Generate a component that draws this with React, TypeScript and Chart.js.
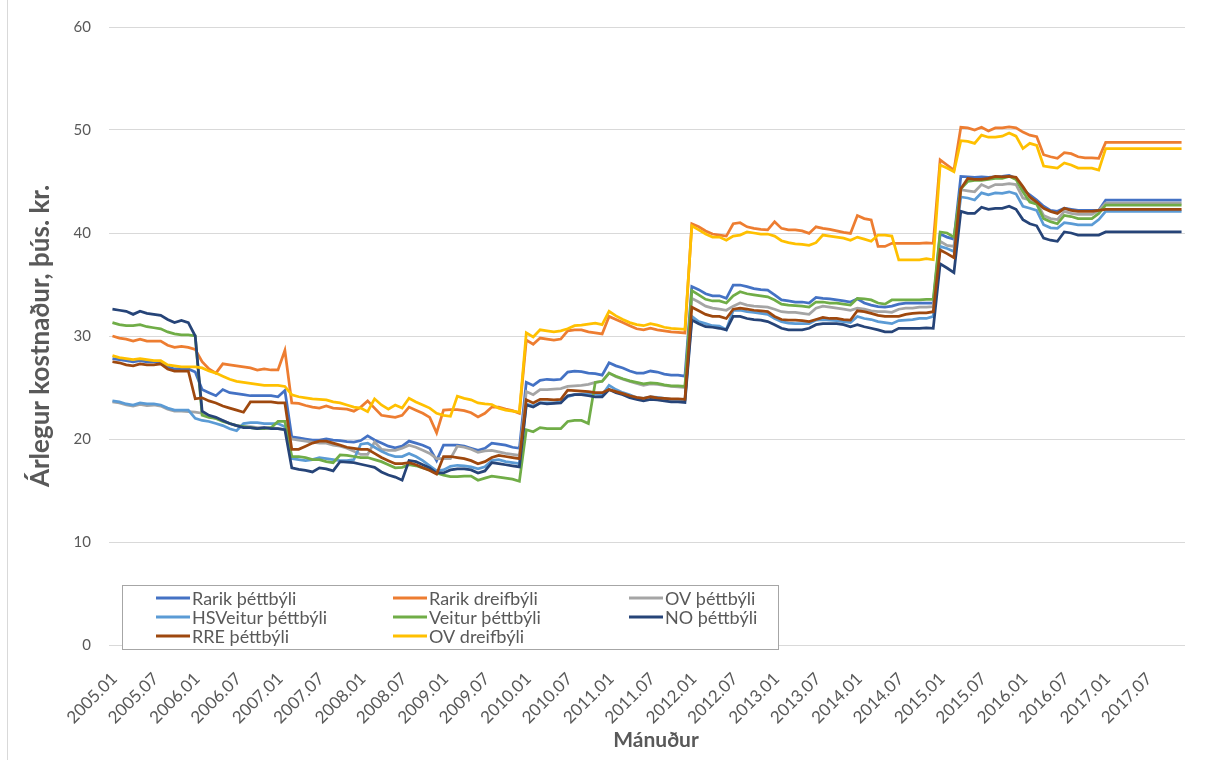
import React, { useEffect, useRef } from 'react';
import { Chart, registerables } from 'chart.js';

Chart.register(...registerables);

// ---------- categories ----------
const years = [2005, 2006, 2007, 2008, 2009, 2010, 2011, 2012, 2013, 2014, 2015, 2016, 2017];
const monthCodes = ['01', '02', '03', '04', '05', '06', '07', '08', '09', '10', '11', '12'];
const categories: string[] = years.flatMap((y) => monthCodes.map((m) => `${y}.${m}`));
const labelEvery = 6;

// ---------- series (þús. kr. á ári) ----------
const rarikThett = [
  27.8, 27.7, 27.6, 27.5, 27.6, 27.5, 27.5, 27.4, 27.0, 26.8, 26.8, 26.8,
  26.5, 24.8, 24.5, 24.2, 24.8, 24.5, 24.4, 24.3, 24.2, 24.2, 24.2, 24.2,
  24.1, 24.7, 20.2, 20.1, 20.0, 19.9, 19.9, 20.0, 19.9, 19.85, 19.75, 19.7,
  19.85, 20.3, 19.9, 19.6, 19.3, 19.15, 19.3, 19.8, 19.6, 19.4, 19.1, 17.9,
  19.4, 19.4, 19.4, 19.3, 19.1, 18.9, 19.1, 19.6, 19.5, 19.4, 19.2, 19.1,
  25.5, 25.2, 25.7, 25.8, 25.75, 25.8, 26.5, 26.6, 26.55, 26.4, 26.35, 26.2,
  27.4, 27.1, 26.9, 26.6, 26.4, 26.4, 26.6, 26.5, 26.3, 26.2, 26.2, 26.1,
  34.8, 34.5, 34.1, 33.9, 33.9, 33.66, 34.95, 34.95, 34.8, 34.6, 34.5, 34.45,
  34.0, 33.5, 33.4, 33.3, 33.3, 33.2, 33.75, 33.66, 33.6, 33.5, 33.4, 33.3,
  33.6, 33.2, 33.0, 32.85, 32.8, 32.9, 33.1, 33.2, 33.2, 33.2, 33.2, 33.2,
  39.9, 39.6, 39.4, 45.5, 45.45, 45.4, 45.45, 45.4, 45.45, 45.5, 45.6, 45.3,
  44.2, 43.7, 43.2, 42.6, 42.2, 42.1, 42.4, 42.3, 42.2, 42.2, 42.2, 42.2,
  43.2, 43.2, 43.2, 43.2, 43.2, 43.2, 43.2, 43.2, 43.2, 43.2, 43.2, 43.2,
];

const rarikDreif = [
  30.0, 29.8, 29.7, 29.5, 29.7, 29.5, 29.5, 29.5, 29.1, 28.9, 29.0, 28.9,
  28.7, 27.5, 26.8, 26.4, 27.3, 27.2, 27.1, 27.0, 26.9, 26.7, 26.8, 26.7,
  26.7, 28.6, 23.5, 23.45, 23.25, 23.1, 23.0, 23.2, 23.0, 22.95, 22.9, 22.7,
  23.1, 23.7, 23.0, 22.3, 22.2, 22.1, 22.3, 23.1, 22.8, 22.5, 22.1, 20.6,
  22.8, 22.85, 22.85, 22.75, 22.55, 22.15, 22.5, 23.1, 23.1, 22.9, 22.75, 22.5,
  29.6, 29.2, 29.8, 29.7, 29.6, 29.7, 30.5, 30.6, 30.6, 30.4, 30.3, 30.2,
  31.9, 31.6, 31.3, 31.0, 30.7, 30.6, 30.75, 30.6, 30.5, 30.4, 30.35, 30.3,
  40.9, 40.6, 40.2, 39.9, 39.8, 39.7, 40.9, 41.0, 40.6, 40.45, 40.35, 40.3,
  41.1, 40.45, 40.3, 40.3, 40.2, 39.96, 40.6, 40.45, 40.35, 40.2, 40.06, 39.96,
  41.7, 41.4, 41.26, 38.7, 38.7, 39.0, 39.0, 39.0, 39.0, 39.0, 39.05, 39.0,
  47.1, 46.6, 46.1, 50.26, 50.2, 50.0, 50.26, 49.9, 50.2, 50.2, 50.3, 50.2,
  49.8, 49.5, 49.35, 47.6, 47.4, 47.25, 47.8, 47.7, 47.4, 47.3, 47.3, 47.25,
  48.8, 48.8, 48.8, 48.8, 48.8, 48.8, 48.8, 48.8, 48.8, 48.8, 48.8, 48.8,
];

const ovThett = [
  23.6, 23.5, 23.3, 23.2, 23.35, 23.25, 23.3, 23.2, 22.9, 22.7, 22.7, 22.65,
  22.6, 22.5, 22.2, 22.0, 21.8, 21.5, 21.3, 21.2, 21.2, 21.1, 21.1, 21.1,
  21.0, 20.9, 20.0, 19.9, 19.8, 19.7, 19.6, 19.6, 19.4, 19.3, 19.1, 18.8,
  18.5, 18.5, 19.7, 19.0, 18.9, 18.9, 19.1, 19.4, 19.2, 18.9, 18.6, 18.1,
  18.1, 18.1, 19.3, 19.2, 19.0, 18.7, 18.85, 18.9, 18.75, 18.6, 18.5, 18.4,
  24.6, 24.3, 24.8, 24.8, 24.85, 24.9, 25.1, 25.15, 25.2, 25.3, 25.5, 25.6,
  26.4, 26.05, 25.8, 25.6, 25.4, 25.2, 25.35, 25.3, 25.2, 25.1, 25.05, 25.0,
  33.65, 33.3, 32.9, 32.7, 32.6, 32.5, 32.9, 33.2, 33.0, 32.9, 32.85, 32.8,
  32.6, 32.36, 32.3, 32.3, 32.2, 32.1, 32.7, 32.9, 32.8, 32.7, 32.6, 32.5,
  32.7, 32.6, 32.45, 32.36, 32.36, 32.3, 32.6, 32.7, 32.7, 32.8, 32.8, 32.85,
  39.2, 38.8, 38.7, 44.2, 44.1, 44.0, 44.7, 44.4, 44.7, 44.7, 44.8, 44.7,
  43.4, 43.2, 43.0, 41.7, 41.4, 41.3, 42.1, 41.9, 41.8, 41.8, 41.8, 42.2,
  42.9, 42.9, 42.9, 42.9, 42.9, 42.9, 42.9, 42.9, 42.9, 42.9, 42.9, 42.9,
];

const hsVeitur = [
  23.7, 23.6, 23.4, 23.3, 23.5, 23.4, 23.4, 23.3, 23.0, 22.8, 22.8, 22.8,
  22.0, 21.8, 21.7, 21.5, 21.3, 21.0, 20.8, 21.5, 21.6, 21.6, 21.5, 21.5,
  21.5, 21.2, 18.1, 18.0, 17.9, 18.0, 18.2, 18.1, 18.0, 17.9, 17.9, 18.0,
  19.5, 19.6, 19.2, 18.8, 18.5, 18.3, 18.3, 18.6, 18.3, 17.9, 17.4, 16.9,
  17.0, 17.35, 17.45, 17.4, 17.3, 17.1, 17.3, 17.9, 18.0, 17.8, 17.7, 17.6,
  23.4, 23.2, 23.5, 23.5, 23.5, 23.6, 24.1, 24.3, 24.35, 24.4, 24.35, 24.3,
  25.2, 24.8, 24.5, 24.3, 24.0, 23.95, 24.1, 24.05, 23.95, 23.85, 23.85, 23.8,
  31.9, 31.4, 31.2, 31.0, 30.95, 30.6, 32.5, 32.5, 32.36, 32.3, 32.2, 32.1,
  31.7, 31.4, 31.25, 31.2, 31.2, 31.2, 31.55, 31.6, 31.55, 31.5, 31.4, 31.3,
  31.9, 31.7, 31.6, 31.4, 31.3, 31.2, 31.5, 31.55, 31.6, 31.7, 31.7, 31.9,
  38.7, 38.5, 38.2, 43.5, 43.4, 43.2, 43.9, 43.7, 43.9, 43.85, 44.0, 43.8,
  42.6, 42.4, 42.2, 40.8, 40.5, 40.45, 41.0, 40.9, 40.8, 40.8, 40.8, 41.3,
  42.1, 42.1, 42.1, 42.1, 42.1, 42.1, 42.1, 42.1, 42.1, 42.1, 42.1, 42.1,
];

const veitur = [
  31.3, 31.1, 31.0, 31.0, 31.1, 30.9, 30.8, 30.7, 30.4, 30.2, 30.1, 30.1,
  30.0, 22.3, 22.1, 22.0, 21.7, 21.5, 21.3, 21.2, 21.1, 21.0, 21.0, 21.1,
  21.7, 21.7, 18.3, 18.3, 18.2, 18.0, 18.0, 17.8, 17.7, 18.45, 18.4, 18.3,
  18.2, 18.2, 18.0, 17.8, 17.5, 17.2, 17.25, 17.5, 17.4, 17.2, 17.0, 16.7,
  16.5, 16.35, 16.35, 16.4, 16.4, 16.0, 16.2, 16.4, 16.3, 16.2, 16.1, 15.9,
  20.9, 20.7, 21.1, 21.0, 21.0, 21.0, 21.7, 21.8, 21.8, 21.5, 25.5, 25.6,
  26.4, 26.1, 25.85, 25.65, 25.5, 25.35, 25.45, 25.4, 25.25, 25.15, 25.15, 25.1,
  34.4, 34.0, 33.56, 33.4, 33.4, 33.2, 33.9, 34.3, 34.1, 34.0, 33.9, 33.8,
  33.5, 33.1, 33.0, 32.95, 32.9, 32.8, 33.3, 33.3, 33.2, 33.2, 33.1, 33.0,
  33.65, 33.6, 33.5, 33.2, 33.1, 33.5, 33.5, 33.5, 33.5, 33.5, 33.56, 33.56,
  40.1, 40.0, 39.6, 44.3, 45.0, 45.1, 45.1, 45.2, 45.3, 45.3, 45.5, 45.2,
  44.0, 43.0, 42.8, 41.4, 41.1, 40.9, 41.7, 41.6, 41.4, 41.4, 41.4, 41.9,
  42.7, 42.7, 42.7, 42.7, 42.7, 42.7, 42.7, 42.7, 42.7, 42.7, 42.7, 42.7,
];

const noThett = [
  32.6, 32.5, 32.4, 32.1, 32.4, 32.2, 32.1, 32.0, 31.6, 31.3, 31.5, 31.3,
  30.0, 22.7, 22.3, 22.1, 21.8, 21.5, 21.3, 21.1, 21.1, 21.0, 21.1, 21.0,
  21.0, 20.9, 17.2, 17.05, 16.95, 16.8, 17.2, 17.1, 16.9, 17.8, 17.75, 17.7,
  17.55, 17.4, 17.25, 16.8, 16.5, 16.3, 16.0, 17.9, 17.8, 17.5, 17.2, 16.7,
  16.7, 17.0, 17.1, 17.1, 17.0, 16.7, 16.9, 17.7, 17.6, 17.5, 17.4, 17.3,
  23.3, 23.1, 23.5, 23.4, 23.45, 23.5, 24.2, 24.3, 24.3, 24.2, 24.1, 24.1,
  24.8, 24.5, 24.3, 24.0, 23.85, 23.7, 23.85, 23.8, 23.7, 23.6, 23.6, 23.55,
  31.55, 31.2, 30.9, 30.85, 30.75, 30.6, 31.9, 31.9, 31.7, 31.6, 31.55, 31.4,
  31.1, 30.75, 30.6, 30.6, 30.6, 30.75, 31.1, 31.2, 31.2, 31.2, 31.1, 30.9,
  31.1, 30.9, 30.75, 30.6, 30.4, 30.4, 30.75, 30.75, 30.75, 30.75, 30.8, 30.75,
  37.0, 36.6, 36.15, 42.1, 41.9, 41.9, 42.5, 42.3, 42.4, 42.4, 42.6, 42.3,
  41.3, 40.9, 40.7, 39.5, 39.3, 39.2, 40.1, 40.0, 39.8, 39.8, 39.8, 39.8,
  40.1, 40.1, 40.1, 40.1, 40.1, 40.1, 40.1, 40.1, 40.1, 40.1, 40.1, 40.1,
];

const rreThett = [
  27.5, 27.4, 27.2, 27.1, 27.3, 27.2, 27.2, 27.3, 26.8, 26.6, 26.6, 26.6,
  23.9, 24.0, 23.7, 23.5, 23.2, 23.0, 22.8, 22.6, 23.6, 23.6, 23.6, 23.6,
  23.5, 23.5, 19.0, 19.0, 19.3, 19.6, 19.8, 19.8, 19.6, 19.4, 19.2, 19.1,
  19.0, 19.0, 18.6, 18.2, 17.9, 17.6, 17.6, 17.7, 17.5, 17.2, 16.95, 16.6,
  18.3, 18.3, 18.2, 18.1, 17.9, 17.6, 17.8, 18.2, 18.4, 18.3, 18.2, 18.1,
  23.8, 23.5, 23.85, 23.85, 23.8, 23.85, 24.75, 24.7, 24.65, 24.6, 24.5, 24.5,
  24.8, 24.6, 24.4, 24.2, 24.05, 23.95, 24.1, 24.0, 23.95, 23.9, 23.9, 23.85,
  32.8, 32.45, 32.1, 31.9, 31.9, 31.7, 32.6, 32.7, 32.6, 32.5, 32.45, 32.36,
  31.9, 31.6, 31.55, 31.55, 31.5, 31.4, 31.6, 31.8, 31.7, 31.7, 31.6, 31.55,
  32.45, 32.36, 32.2, 32.0, 31.9, 31.9, 31.9, 32.1, 32.2, 32.25, 32.25, 32.36,
  38.35, 38.0, 37.6, 44.3, 45.3, 45.2, 45.2, 45.3, 45.5, 45.45, 45.5, 45.4,
  44.5, 43.5, 43.0, 42.4, 42.1, 41.9, 42.4, 42.2, 42.1, 42.1, 42.1, 42.2,
  42.3, 42.3, 42.3, 42.3, 42.3, 42.3, 42.3, 42.3, 42.3, 42.3, 42.3, 42.3,
];

const ovDreif = [
  28.1, 27.9, 27.8, 27.7, 27.8, 27.7, 27.6, 27.6, 27.2, 27.1, 27.0, 27.0,
  27.0, 26.9, 26.6, 26.4, 26.1, 25.8, 25.6, 25.5, 25.4, 25.3, 25.2, 25.2,
  25.2, 25.1, 24.3, 24.1, 24.0, 23.9, 23.85, 23.8, 23.6, 23.5, 23.3, 23.1,
  23.0, 22.65, 23.9, 23.3, 22.9, 23.3, 23.0, 23.95, 23.6, 23.3, 23.0, 22.5,
  22.3, 22.2, 24.15, 23.95, 23.8, 23.5, 23.4, 23.35, 23.0, 22.8, 22.7, 22.6,
  30.3, 29.9, 30.6, 30.5, 30.4, 30.5, 30.7, 31.0, 31.05, 31.15, 31.25, 31.1,
  32.4, 31.95, 31.6, 31.3, 31.1, 31.0, 31.2, 31.05, 30.85, 30.75, 30.7, 30.65,
  40.7, 40.3, 39.9, 39.6, 39.6, 39.3, 39.7, 39.8, 40.1, 40.0, 39.9, 39.9,
  39.7, 39.25, 39.06, 38.95, 38.9, 38.8, 39.06, 39.8, 39.7, 39.6, 39.5, 39.3,
  39.6, 39.4, 39.2, 39.8, 39.8, 39.7, 37.4, 37.4, 37.4, 37.4, 37.5, 37.4,
  46.6, 46.3, 45.95, 48.96, 48.9, 48.7, 49.5, 49.3, 49.3, 49.4, 49.7, 49.4,
  48.2, 48.7, 48.5, 46.5, 46.4, 46.3, 46.8, 46.6, 46.3, 46.3, 46.3, 46.1,
  48.2, 48.2, 48.2, 48.2, 48.2, 48.2, 48.2, 48.2, 48.2, 48.2, 48.2, 48.2,
];

const seriesNames = [
  'Rarik þéttbýli',
  'Rarik dreifbýli',
  'OV þéttbýli',
  'HSVeitur þéttbýli',
  'Veitur þéttbýli',
  'NO þéttbýli',
  'RRE þéttbýli',
  'OV dreifbýli',
];
const seriesValues = [rarikThett, rarikDreif, ovThett, hsVeitur, veitur, noThett, rreThett, ovDreif];
const seriesColors = ['#4472C4', '#ED7D31', '#A5A5A5', '#5B9BD5', '#70AD47', '#264478', '#9E480E', '#FFC000'];

const yTicks = [0, 10, 20, 30, 40, 50, 60];
const yTitle = 'Árlegur kostnaður, þús. kr.';
const xTitle = 'Mánuður';

const FONT = 'Lato, "Noto Sans", sans-serif';
const TEXT = '#595959';

// Legend box inside the plot, rotated month labels and the x-axis title
const extras = {
  id: 'extras',
  afterDraw(chart: any) {
    const ctx = chart.ctx as CanvasRenderingContext2D;
    const area = chart.chartArea;
    const xScale = chart.scales.x;
    ctx.save();

    // rotated category labels, every sixth month
    ctx.font = `17px ${FONT}`;
    ctx.fillStyle = TEXT;
    ctx.textAlign = 'right';
    ctx.textBaseline = 'middle';
    categories.forEach((label, i) => {
      if (i % labelEvery !== 0) return;
      const px = xScale.getPixelForValue(i);
      ctx.save();
      ctx.translate(px + 2, area.bottom + 31);
      ctx.rotate(-Math.PI / 4);
      ctx.fillText(label, 0, 0);
      ctx.restore();
    });

    // legend
    const left = 122;
    const top = 585;
    const width = 656;
    const height = 64;
    const colX = [156, 393, 629];
    const rowY = [598, 617, 636];
    ctx.fillStyle = '#ffffff';
    ctx.fillRect(left, top, width, height);
    ctx.strokeStyle = '#a6a6a6';
    ctx.lineWidth = 1;
    ctx.strokeRect(left + 0.5, top + 0.5, width, height);
    ctx.font = `18px ${FONT}`;
    ctx.textBaseline = 'middle';
    ctx.textAlign = 'left';
    chart.data.datasets.forEach((ds: any, i: number) => {
      const x = colX[i % 3];
      const y = rowY[Math.floor(i / 3)];
      ctx.strokeStyle = ds.borderColor;
      ctx.lineWidth = 3;
      ctx.beginPath();
      ctx.moveTo(x, y);
      ctx.lineTo(x + 34, y);
      ctx.stroke();
      ctx.fillStyle = TEXT;
      ctx.fillText(ds.label, x + 36, y + 1);
    });

    // x-axis title
    ctx.font = `bold 21px ${FONT}`;
    ctx.textAlign = 'center';
    ctx.fillStyle = TEXT;
    ctx.fillText(xTitle, 656, 740);
    ctx.restore();
  },
};

export default function App() {
  const canvasRef = useRef<HTMLCanvasElement | null>(null);

  useEffect(() => {
    const canvas = canvasRef.current;
    if (!canvas) return;
    Chart.defaults.font.family = FONT;
    const chart = new Chart(canvas, {
      type: 'line',
      data: {
        labels: categories,
        datasets: seriesNames.map((name, i) => ({
          label: name,
          data: seriesValues[i],
          borderColor: seriesColors[i],
          backgroundColor: seriesColors[i],
          borderWidth: 2.75,
          pointRadius: 0,
          pointHoverRadius: 0,
          tension: 0,
          fill: false,
          order: seriesNames.length - i,
        })),
      },
      options: {
        responsive: false,
        maintainAspectRatio: false,
        animation: false,
        layout: { padding: { left: 0, right: 27, top: 27, bottom: 0 } },
        plugins: {
          legend: { display: false },
          tooltip: { enabled: false },
          title: { display: false },
        },
        scales: {
          x: {
            type: 'category',
            offset: true,
            grid: { display: false, drawTicks: false },
            border: { display: false },
            ticks: { display: false },
            title: { display: false },
            afterFit: (scale: any) => {
              scale.height = 115;
            },
          },
          y: {
            min: 0,
            max: 60,
            afterBuildTicks: (scale: any) => {
              scale.ticks = yTicks.map((v) => ({ value: v }));
            },
            grid: { color: '#d9d9d9', lineWidth: 1, drawTicks: false },
            border: { display: false },
            ticks: {
              padding: 18,
              color: TEXT,
              font: { size: 15, family: FONT },
            },
            title: {
              display: true,
              text: yTitle,
              color: TEXT,
              font: { size: 26, weight: 'bold', family: FONT },
              padding: { top: 25, bottom: 0 },
            },
            afterFit: (scale: any) => {
              scale.width = 109;
            },
          },
        },
      },
      plugins: [extras],
    });
    return () => chart.destroy();
  }, []);

  return (
    <div style={{ position: 'fixed', left: 0, top: 0, width: 1212, height: 760, background: '#ffffff' }}>
      <div style={{ position: 'absolute', left: 7, top: 0, width: 1, height: 760, background: '#d9d9d9' }} />
      <canvas
        ref={canvasRef}
        width={1212}
        height={760}
        style={{ position: 'absolute', left: 0, top: 0, width: 1212, height: 760 }}
      />
    </div>
  );
}
